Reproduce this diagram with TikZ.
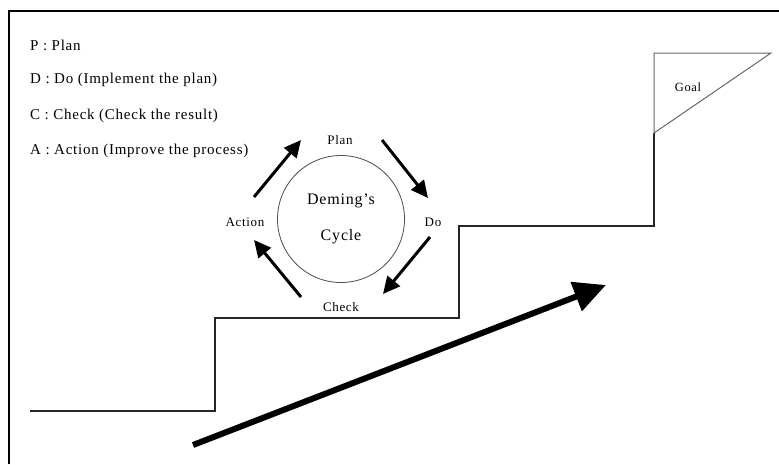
\documentclass[tikz,border=0pt]{standalone}
\usepackage{fontspec}
\setmainfont[LetterSpace=5]{Liberation Serif}
\usetikzlibrary{arrows.meta}
\begin{document}
\begin{tikzpicture}[x=1pt,y=-1pt,
  legend/.style={anchor=west,inner sep=0pt,font=\fontsize{15}{15}\selectfont},
  phase/.style={inner sep=0pt,font=\fontsize{13}{13}\selectfont},
  stair/.style={draw=black!85,line width=1.3pt},
  flagline/.style={draw=black!60,line width=1pt},
  cyclearrow/.style={line width=3pt,-{Triangle[length=17pt,width=16pt]}},
  bigarrow/.style={line width=6pt,-{Triangle[length=32pt,width=30pt]}}]
\useasboundingbox (0,0) rectangle (779,464);
\fill[white] (0,0) rectangle (779,464);

% outer frame (left and top edges)
\draw[line width=1.6pt] (9,464) -- (9,11) -- (779,11);

% legend
\node[legend] (lp) at (30,45)  {P : Plan};
\node[legend] (ld) at (30,80)  {D : Do (Implement the plan)};
\node[legend] (lc) at (30,116) {C : Check (Check the result)};
\node[legend] (la) at (30,151) {A : Action (Improve the process)};

% staircase
\coordinate (s0) at (30,411);
\coordinate (s1) at (215,411);
\coordinate (s2) at (215,318);
\coordinate (s3) at (459,318);
\coordinate (s4) at (459,226);
\coordinate (s5) at (654,226);
\coordinate (s6) at (654,133);
\draw[stair] (s0) -- (s1) -- (s2) -- (s3) -- (s4) -- (s5) -- (s6);

% goal flag
\coordinate (f1) at (654,53);
\coordinate (f2) at (771,53);
\draw[flagline] (s6) -- (f1) -- (f2) -- cycle;
\node[inner sep=0pt,font=\fontsize{12.5}{12.5}\selectfont] (goal) at (688,87) {Goal};

% Deming cycle
\node[circle,draw=black!70,line width=0.8pt,minimum size=127pt,inner sep=0pt,
      align=center,font=\fontsize{16}{36}\selectfont] (cyc) at (341,219)
      {Deming's\\Cycle};
\node[phase] (plan)   at (340,140) {Plan};
\node[phase] (do)     at (433,222) {Do};
\node[phase] (check)  at (341,307) {Check};
\node[phase] (action) at (245,222) {Action};

\coordinate (pd0) at (382,140);
\coordinate (pd1) at (428,198);
\coordinate (dc0) at (430,237);
\coordinate (dc1) at (383,294);
\coordinate (ca0) at (301,297);
\coordinate (ca1) at (254,240);
\coordinate (ap0) at (254,197);
\coordinate (ap1) at (301,140);
\draw[cyclearrow] (pd0) -- (pd1);
\draw[cyclearrow] (dc0) -- (dc1);
\draw[cyclearrow] (ca0) -- (ca1);
\draw[cyclearrow] (ap0) -- (ap1);

% improvement arrow
\coordinate (b0) at (193,445);
\coordinate (b1) at (606,285);
\draw[bigarrow] (b0) -- (b1);
\end{tikzpicture}
\end{document}
